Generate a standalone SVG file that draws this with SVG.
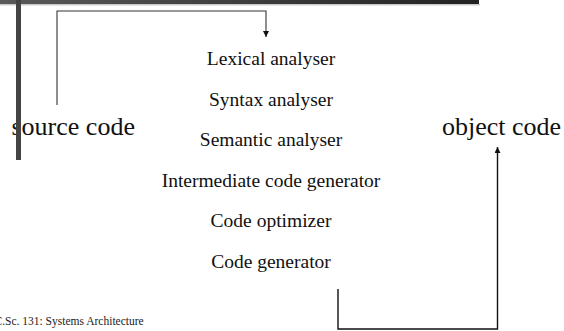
<svg xmlns="http://www.w3.org/2000/svg" width="564" height="331" viewBox="0 0 564 331">
<defs>
<linearGradient id="barGrad" x1="0" y1="0" x2="1" y2="0">
<stop offset="0" stop-color="#5a5a5a"/>
<stop offset="1" stop-color="#222"/>
</linearGradient>
<marker id="arrow" viewBox="0 0 6 6" refX="6" refY="3" markerWidth="6" markerHeight="6" markerUnits="userSpaceOnUse" orient="auto">
<path d="M0,0 L6,3 L0,6 z" fill="#111"/>
</marker>
<style>
.stage{font-family:"Liberation Serif","Times New Roman",serif;font-size:19.5px;fill:#111;text-anchor:middle}
.big{font-family:"Liberation Serif","Times New Roman",serif;font-size:26px;fill:#111}
.foot{font-family:"Liberation Serif","Times New Roman",serif;font-size:11.5px;fill:#222}
.conn{fill:none;stroke:#333;stroke-width:1.1}
.conn2{fill:none;stroke:#111;stroke-width:1.4}
</style>
</defs>
<rect x="0" y="4" width="480" height="1.5" fill="#ccc"/>
<rect x="0" y="0" width="479" height="4" fill="url(#barGrad)"/>
<g id="source"><text class="big" x="11.5" y="135">source code</text></g>
<rect x="16" y="0" width="5" height="160" fill="#444"/>
<g id="object"><text class="big" x="442" y="135">object code</text></g>
<g id="lexical"><text class="stage" x="271" y="65">Lexical analyser</text></g>
<g id="syntax"><text class="stage" x="271" y="105.6">Syntax analyser</text></g>
<g id="semantic"><text class="stage" x="271" y="146.2">Semantic analyser</text></g>
<g id="intermediate"><text class="stage" x="271" y="186.8">Intermediate code generator</text></g>
<g id="optimizer"><text class="stage" x="271" y="227.4">Code optimizer</text></g>
<g id="generator"><text class="stage" x="271" y="268">Code generator</text></g>
<g id="connectors">
<path class="conn" d="M57,105 V11 H266 V37" marker-end="url(#arrow)"/>
<path class="conn2" d="M338,289 V329 H497.5 V147" marker-end="url(#arrow)"/>
</g>
<g id="footer"><text class="foot" x="-5.5" y="325">C.Sc. 131: Systems Architecture</text></g>
</svg>
